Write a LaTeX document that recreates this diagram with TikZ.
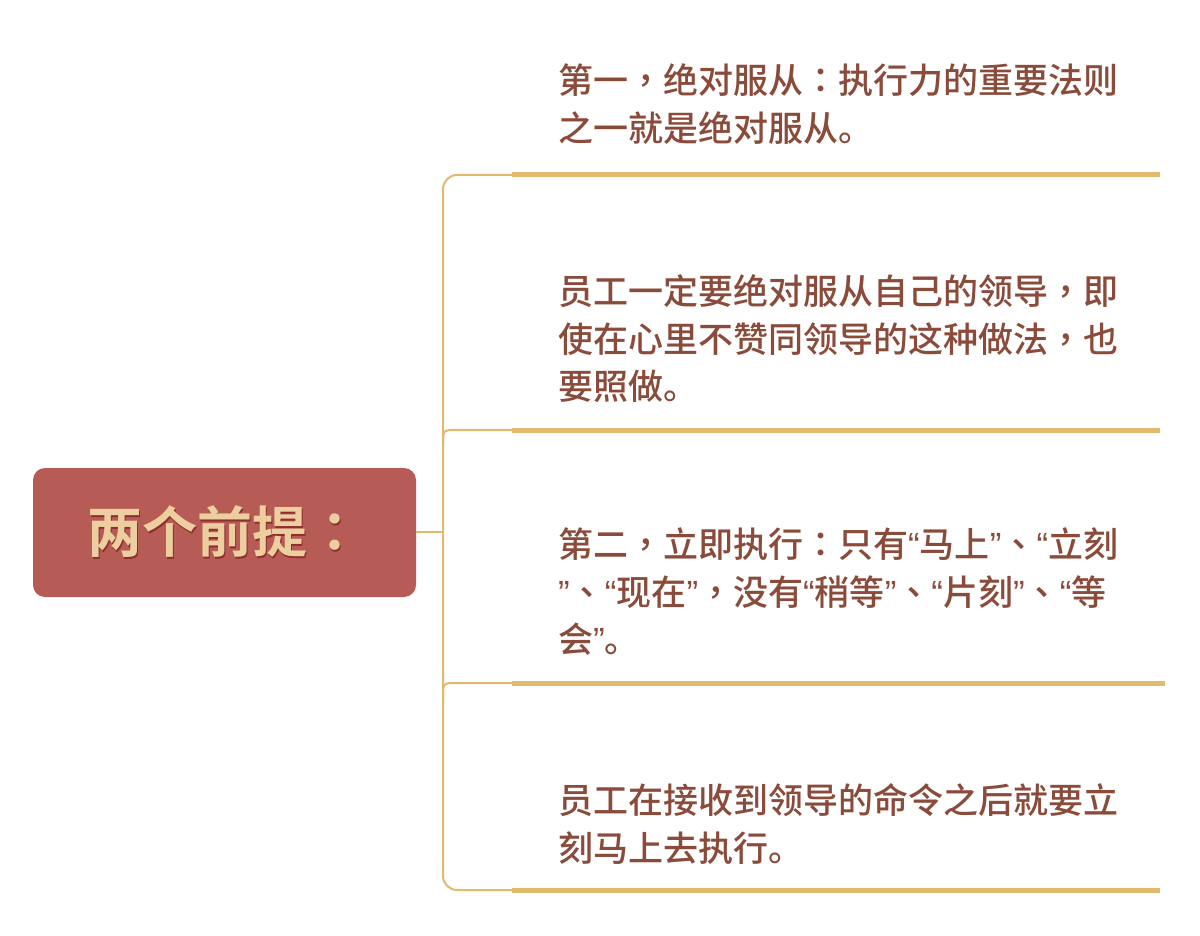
\documentclass[tikz,border=0pt]{standalone}
\usepackage{fontspec}
\setmainfont{Noto Sans CJK SC}[UprightFont=* Medium, BoldFont=* Bold]
\newfontfamily\tcf{Noto Sans CJK TC}[UprightFont=* Medium, BoldFont=* Bold]
\newfontfamily\qtf{Liberation Sans}
\newcommand\cm{{\tcf ，}}
\newcommand\cl{{\tcf ：}}
\newcommand\dn{{\tcf 、}}
\newcommand\myoq{{\qtf “}}
\newcommand\mycq{{\qtf ”}}
\definecolor{linec}{HTML}{E2BA6E}
\definecolor{rootfill}{HTML}{B75B56}
\definecolor{roottext}{HTML}{EDCF9F}
\definecolor{rootshadow}{HTML}{8E2E2E}
\definecolor{bodytext}{HTML}{8B4B3B}
\begin{document}
\begin{tikzpicture}[x=1pt,y=-1pt,
  rootbox/.style={fill=rootfill, rounded corners=12pt, minimum width=383pt, minimum height=129pt, inner sep=0pt, text=roottext, font=\fontsize{55}{60}\selectfont\bfseries},
  leaf/.style={anchor=west, align=left, inner sep=0pt, text=bodytext, font=\fontsize{35}{47.5}\selectfont},
  thinline/.style={draw=linec, line width=2pt},
  thickline/.style={draw=linec, line width=5pt}]
\useasboundingbox[fill=white] (0,0) rectangle (1200,936);
% root
\node[rootbox] (root) at (224.5,532.5) {\textcolor{rootshadow}{\rlap{\hspace*{1.5pt}\raisebox{-1.5pt}{两个前提\cl}}}两个前提\cl};
% trunk coordinates
\coordinate (t0) at (443,532);
\coordinate (a1) at (512,175);
\coordinate (b1) at (1160,175);
\coordinate (a2) at (512,430);
\coordinate (b2) at (1160,430);
\coordinate (a3) at (512,683);
\coordinate (b3) at (1165,683);
\coordinate (a4) at (512,890);
\coordinate (b4) at (1160,890);
% text nodes
\node[leaf] (n1) at (558,104) {第一\cm 绝对服从\cl 执行力的重要法则\\之一就是绝对服从。};
\node[leaf] (n2) at (558,339) {员工一定要绝对服从自己的领导\cm 即\\使在心里不赞同领导的这种做法\cm 也\\要照做。};
\node[leaf] (n3) at (558,592) {第二\cm 立即执行\cl 只有\myoq 马上\mycq\dn\myoq 立刻\\\mycq\dn\myoq 现在\mycq\cm 没有\myoq 稍等\mycq\dn\myoq 片刻\mycq\dn\myoq 等\\会\mycq。};
\node[leaf] (n4) at (558,824) {员工在接收到领导的命令之后就要立\\刻马上去执行。};
% connectors
\draw[thinline] (root.east |- t0) -- (t0);
\draw[thinline, rounded corners=14pt] (a1) -- (443,175) -- (443,890) -- (a4);
\draw[thinline] (443,444) .. controls (443,430) .. (457,430) -- (a2);
\draw[thinline] (443,697) .. controls (443,683) .. (457,683) -- (a3);
\draw[thickline] (a1) -- (b1);
\draw[thickline] (a2) -- (b2);
\draw[thickline] (a3) -- (b3);
\draw[thickline] (a4) -- (b4);
\end{tikzpicture}
\end{document}
